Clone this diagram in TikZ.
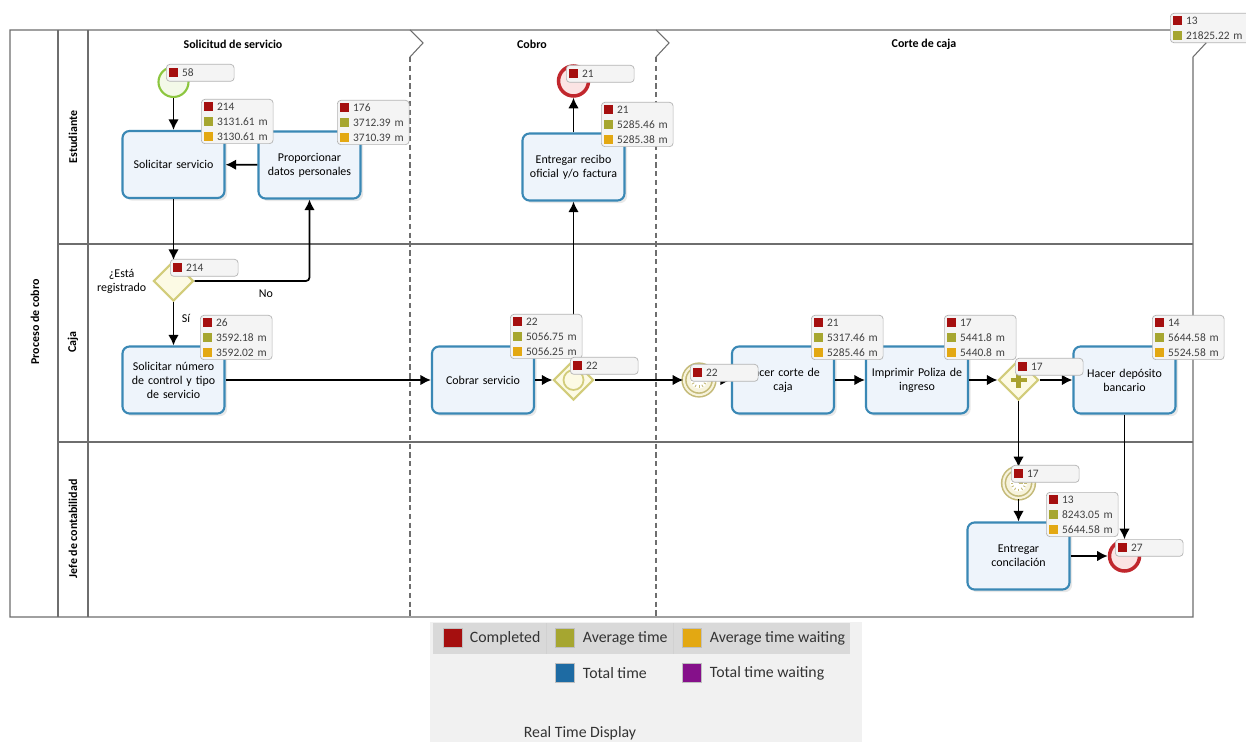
\documentclass[tikz,border=0pt]{standalone}
\usepackage{fontspec}
\setmainfont{Carlito}
\usepackage{xcolor}
\usepackage{tikz}
\usetikzlibrary{arrows.meta,positioning,calc,shapes.geometric,shadows}

\definecolor{taskblue}{HTML}{3A88B5}
\definecolor{taskfill}{HTML}{EEF4FB}
\definecolor{gwline}{HTML}{D2CC7A}
\definecolor{gwfill}{HTML}{FCFAE4}
\definecolor{plusolive}{HTML}{A9A22E}
\definecolor{startgreen}{HTML}{8CC63F}
\definecolor{startfill}{HTML}{F3F9E8}
\definecolor{endred}{HTML}{C1272D}
\definecolor{endfill}{HTML}{FBE4E4}
\definecolor{timerline}{HTML}{C4BA78}
\definecolor{timerfill}{HTML}{F7F3DC}
\definecolor{poolgray}{HTML}{6E6E6E}
\definecolor{statline}{HTML}{B4B4B4}
\definecolor{statfill}{HTML}{F4F4F4}
\definecolor{statred}{HTML}{A50F0F}
\definecolor{statolive}{HTML}{A6A630}
\definecolor{statorange}{HTML}{E3A812}
\definecolor{statblue}{HTML}{1E6BA3}
\definecolor{statpurple}{HTML}{85108A}
\definecolor{legbar}{HTML}{D9D9D9}
\definecolor{legback}{HTML}{F1F1F1}

% coloured square in front of a counter
\newcommand{\sq}[1]{\textcolor{#1}{\rule[-0.3pt]{5pt}{5pt}}\hspace{2.5pt}}

\tikzset{
  task/.style={draw=taskblue, line width=1.2pt, rounded corners=4pt, fill=taskfill, align=center,
    minimum width=2.04cm, minimum height=1.34cm, text width=1.9cm, inner sep=2pt,
    font=\fontsize{6.8}{8}\selectfont,
    drop shadow={opacity=0.18, shadow xshift=1.5pt, shadow yshift=-1.5pt}},
  gateway/.style={diamond, draw=gwline, line width=1.2pt, fill=gwfill, minimum size=0.8cm, inner sep=0pt},
  startev/.style={circle, draw=startgreen, line width=1.2pt, fill=startfill, minimum size=0.6cm, inner sep=0pt},
  endev/.style={circle, draw=endred, line width=2pt, fill=endfill, minimum size=0.6cm, inner sep=0pt},
  timerev/.style={circle, draw=timerline, line width=0.9pt, double=timerfill, double distance=1.2pt,
    fill=timerfill, minimum size=0.6cm, inner sep=0pt},
  stat/.style={draw=statline, fill=statfill, rounded corners=2pt, anchor=north west, align=left,
    text width=1.33cm, inner xsep=1.5pt, inner ysep=1.6pt, font=\fontsize{6.5}{8.5}\selectfont, text=black!75},
  statone/.style={stat, text width=1.25cm, minimum height=0.34cm},
  phase/.style={font=\bfseries\fontsize{6.8}{8}\selectfont},
  lanelbl/.style={rotate=90, font=\bfseries\fontsize{6.8}{8}\selectfont},
  plain/.style={font=\fontsize{6.8}{8}\selectfont},
  pool/.style={draw=poolgray, line width=0.6pt},
  phaseline/.style={draw=poolgray, line width=0.6pt, dash pattern=on 3pt off 2pt},
  line/.style={-{Latex[length=6pt,width=6pt]}, line width=1pt},
  legsq/.style={minimum size=0.37cm, inner sep=0pt, draw=black!25},
  legtxt/.style={font=\fontsize{9}{10}\selectfont, text=black!80, inner sep=0pt}
}

\begin{document}
\begin{tikzpicture}[x=0.02cm, y=-0.02cm]
  \fill[white] (0,0) rectangle (1246,742);
  \useasboundingbox (0,0) rectangle (1246,742);

  % pool, lanes and phases
  \draw[pool] (10,30) -- (1193,30) -- (1206,43) -- (1193,57) -- (1193,617) -- (10,617) -- cycle;
  \draw[pool] (58,30) -- (58,617);
  \draw[pool] (88,30) -- (88,617);
  \draw[pool] (58,244) -- (1193,244);
  \draw[pool] (58,442) -- (1193,442);
  \draw[pool] (410,30) -- (423,43) -- (410,57);
  \draw[phaseline] (410,57) -- (410,617);
  \draw[pool] (656,30) -- (669,43) -- (656,57);
  \draw[phaseline] (656,57) -- (656,617);

  \node[lanelbl] (pool-lbl) at (35,322) {Proceso de cobro};
  \node[lanelbl] (lane-est) at (73,137) {Estudiante};
  \node[lanelbl] (lane-caja) at (73,342) {Caja};
  \node[lanelbl] (lane-jefe) at (73,529) {Jefe de contabilidad};
  \node[phase] (ph-sol) at (233,44) {Solicitud de servicio};
  \node[phase] (ph-cobro) at (532,44) {Cobro};
  \node[phase] (ph-corte) at (924,44) {Corte de caja};

  % flow elements
  \node[startev] (start) at (173.5,82) {};
  \node[task] (solserv) at (173.5,164.5) {Solicitar servicio};
  \node[task] (datos) at (309.5,165) {Proporcionar\\datos personales};
  \node[gateway] (registro) at (173.5,281) {};
  \node[plain, align=center, left=0pt of registro] (registro-lbl) {¿Está\\registrado};
  \node[task] (numctrl) at (173.5,380) {Solicitar número\\de control y tipo\\de servicio};
  \node[task] (cobrar) at (483,380) {Cobrar servicio};
  \node[gateway] (evgw) at (573.5,380) {};
  \draw[gwline, line width=1pt] (evgw) circle (0.2cm);
  \node[task] (recibo) at (573.5,167) {Entregar recibo\\oficial y/o factura};
  \node[endev] (fin1) at (573.5,81) {};
  \node[timerev] (espera1) at (699,380) {};
  \node[task] (corte) at (783,380) {Hacer corte de\\caja};
  \node[task] (poliza) at (917,380) {Imprimir Poliza de\\ingreso};
  \node[gateway] (paralelo) at (1018.5,380) {};
  \draw[plusolive, line width=2.8pt] ($(paralelo)+(-8,0)$) -- ($(paralelo)+(8,0)$)
    ($(paralelo)+(0,-8)$) -- ($(paralelo)+(0,8)$);
  \node[task] (deposito) at (1124.5,380) {Hacer depósito\\bancario};
  \node[timerev] (espera2) at (1018.5,483) {};
  \node[task] (concilia) at (1018.5,556) {Entregar\\concilación};
  \node[endev] (fin2) at (1124.5,556) {};

  \foreach \t in {espera1,espera2} {
    \fill[white] (\t) circle (0.17cm);
    \foreach \a in {0,30,...,330}
      \draw[timerline, line width=0.5pt] ($(\t)+(\a:5.5)$) -- ($(\t)+(\a:8)$);
    \draw[timerline, line width=0.6pt] (\t.center) -- ++(0,-5) (\t.center) -- ++(4,0);
  }

  % sequence flows
  \draw[line] (start) -- (solserv);
  \draw[line] (datos) -- (solserv);
  \draw[line] (solserv) -- (registro);
  \draw[line, rounded corners=2pt] (registro.east) -| node[plain, pos=0.31, below=1pt] (no-lbl) {No} (datos.south);
  \draw[line] (registro) -- node[plain, pos=0.38, right=1pt] (si-lbl) {Sí} (numctrl);
  \draw[line] (numctrl) -- (cobrar);
  \draw[line] (cobrar) -- (evgw);
  \draw[line] (evgw) -- (recibo);
  \draw[line] (recibo) -- (fin1);
  \draw[line] (evgw) -- (espera1);
  \draw[line] (espera1) -- (corte);
  \draw[line] (corte) -- (poliza);
  \draw[line] (poliza) -- (paralelo);
  \draw[line] (paralelo) -- (deposito);
  \draw[line] (paralelo) -- (espera2);
  \draw[line] (espera2) -- (concilia);
  \draw[line] (concilia) -- (fin2);
  \draw[line] (deposito) -- (fin2);

  % real time counters
  \node[statone] (st-start) at (166,64) {\sq{statred}58};
  \node[stat] (st-solserv) at (201,99) {\sq{statred}214\\\sq{statolive}3131.61 m\\\sq{statorange}3130.61 m};
  \node[stat] (st-datos) at (337,100) {\sq{statred}176\\\sq{statolive}3712.39 m\\\sq{statorange}3710.39 m};
  \node[statone] (st-registro) at (170,259) {\sq{statred}214};
  \node[stat] (st-numctrl) at (200,315) {\sq{statred}26\\\sq{statolive}3592.18 m\\\sq{statorange}3592.02 m};
  \node[stat] (st-cobrar) at (510,314) {\sq{statred}22\\\sq{statolive}5056.75 m\\\sq{statorange}5056.25 m};
  \node[statone] (st-evgw) at (570,357) {\sq{statred}22};
  \node[stat] (st-recibo) at (601,102) {\sq{statred}21\\\sq{statolive}5285.46 m\\\sq{statorange}5285.38 m};
  \node[statone] (st-fin1) at (566,65) {\sq{statred}21};
  \node[statone] (st-espera1) at (690,364) {\sq{statred}22};
  \node[stat] (st-corte) at (811,315) {\sq{statred}21\\\sq{statolive}5317.46 m\\\sq{statorange}5285.46 m};
  \node[stat] (st-poliza) at (944,315) {\sq{statred}17\\\sq{statolive}5441.8 m\\\sq{statorange}5440.8 m};
  \node[statone] (st-paralelo) at (1015,358) {\sq{statred}17};
  \node[stat] (st-deposito) at (1152,315) {\sq{statred}14\\\sq{statolive}5644.58 m\\\sq{statorange}5524.58 m};
  \node[statone] (st-espera2) at (1011,465) {\sq{statred}17};
  \node[stat] (st-concilia) at (1046,492) {\sq{statred}13\\\sq{statolive}8243.05 m\\\sq{statorange}5644.58 m};
  \node[statone] (st-fin2) at (1115,539) {\sq{statred}27};
  \node[stat, text width=1.6cm] (st-pool) at (1170,13) {\sq{statred}13\\\sq{statolive}21825.22 m};

  % legend
  \fill[legback] (430,622) rectangle (862,742);
  \fill[legbar] (433,623) rectangle (850,654);
  \draw[black!18] (546,623) -- (546,654) (673,623) -- (673,654);
  \node[legsq, fill=statred] (lg-comp) at (453,638) {};
  \node[legtxt, right=0.14cm of lg-comp] (lg-comp-txt) {Completed};
  \node[legsq, fill=statolive] (lg-avg) at (565,638) {};
  \node[legtxt, right=0.16cm of lg-avg] (lg-avg-txt) {Average time};
  \node[legsq, fill=statorange] (lg-wait) at (692,638) {};
  \node[legtxt, right=0.16cm of lg-wait] (lg-wait-txt) {Average time waiting};
  \node[legsq, fill=statblue] (lg-tot) at (565,673) {};
  \node[legtxt, right=0.16cm of lg-tot] (lg-tot-txt) {Total time};
  \node[legsq, fill=statpurple] (lg-totw) at (692,673) {};
  \node[legtxt, right=0.16cm of lg-totw] (lg-totw-txt) {Total time waiting};
  \node[legtxt] (lg-title) at (580,733) {Real Time Display};
\end{tikzpicture}
\end{document}
